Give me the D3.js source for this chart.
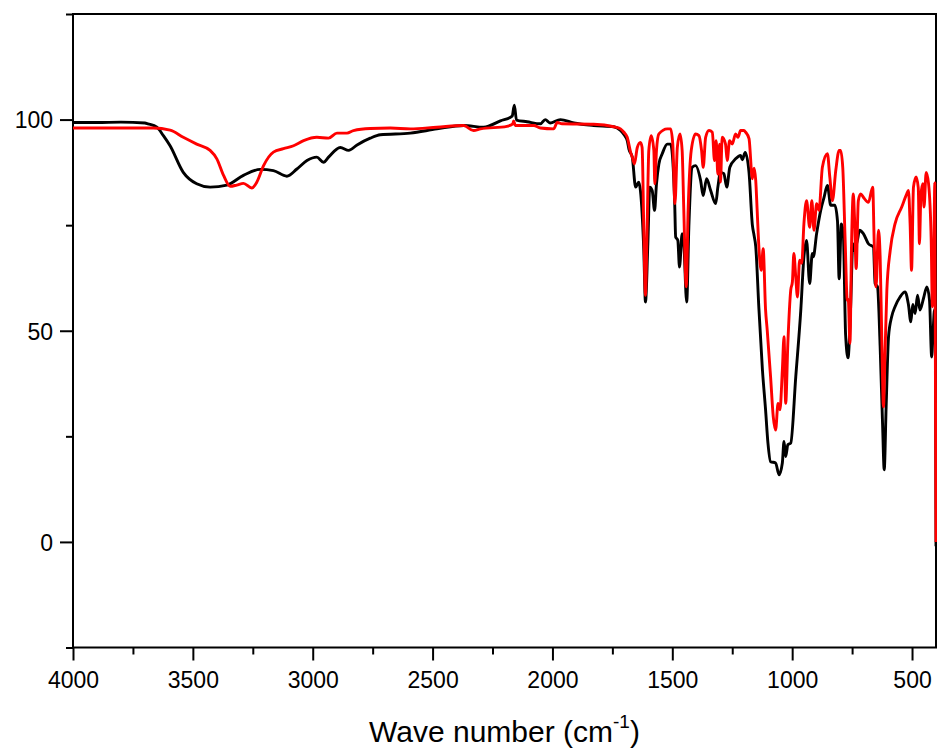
<!DOCTYPE html>
<html>
<head>
<meta charset="utf-8">
<script src="https://cdn.jsdelivr.net/npm/d3@7"></script>
<style>
  body { margin: 0; background: #fff; }
  svg { display: block; font-family: "Liberation Sans", Arial, sans-serif; }
</style>
</head>
<body>
<div id="chart"></div>
<script>
// spectrum 1 (black) - wave number / transmittance
var blackWn = [4000,3900,3800,3700,3687,3650,3623,3595,3540,3484,3428,3358,3289,3219,3164,3108,3066,3024,2983,2955,2934,2885,2850,2815,2760,2718,2593,2482,2370,2287,2217,2168,2159,2150,2106,2050,2030,2010,1967,1911,1828,1744,1716,1702,1688,1681,1667,1653,1640,1633,1619,1612,1602,1594,1584,1574,1566,1556,1542,1521,1507,1498,1490,1486,1477,1470,1459,1452,1440,1431,1417,1403,1382,1371,1357,1340,1319,1310,1299,1285,1273,1260,1236,1215,1208,1196,1180,1166,1159,1152,1139,1124,1111,1101,1090,1069,1055,1041,1034,1027,1018,1006,985,964,951,940,927,916,912,898,881,867,853,839,822,811,804,795,787,777,767,756,747,741,728,719,703,682,661,654,644,633,623,616,608,598,585,571,550,529,515,505,497,487,477,467,452,438,427,418,412,406,402,400];
var blackT  = [99.3,99.3,99.4,99.2,99.0,98.2,96.2,93.8,87.5,84.8,84.0,84.5,86.8,88.2,87.9,86.6,88.3,90.3,91.1,89.9,91.1,93.4,92.7,94.0,95.6,96.4,96.8,97.8,98.6,98.2,99.7,100.8,103.4,99.9,99.5,99.0,100.0,99.2,100.0,99.2,98.6,98.3,97.4,96.5,95.0,93.0,91.1,84.0,85.2,83.2,69.1,56.8,70.6,84.0,83.2,78.5,84.8,89.5,91.9,94.2,94.2,90.3,80.1,72.2,71.4,65.1,73.0,70.6,56.8,74.5,88.7,89.1,85.6,82.0,86.0,83.2,80.1,84.0,87.5,87.2,84.0,88.7,90.7,91.5,90.5,92.2,87.5,75.0,72.6,70.0,55.5,40.7,31.3,23.4,19.0,18.7,15.9,18.7,23.8,20.2,23.0,23.4,39.1,54.9,67.5,71.4,61.2,68.3,67.5,73.0,78.5,81.6,84.4,79.7,79.7,76.0,62.3,75.3,73.5,49.0,43.6,55.7,70.6,69.0,71.4,73.8,73.0,70.6,69.8,61.2,60.4,46.2,28.1,17.1,32.0,48.6,53.3,55.7,58.0,59.2,56.2,52.1,56.2,54.1,58.4,54.9,57.7,60.4,57.2,43.8,50.0,55.0,45.0,-1.0];

// spectrum 2 (red)
var redWn = [4000,3700,3665,3595,3540,3484,3428,3400,3372,3344,3317,3289,3254,3233,3205,3164,3122,3080,3038,2983,2934,2899,2857,2830,2760,2676,2593,2482,2370,2329,2300,2190,2165,2162,2155,2078,2050,1995,1980,1960,1828,1744,1716,1702,1688,1674,1667,1658,1646,1633,1626,1619,1612,1605,1598,1588,1577,1573,1566,1556,1521,1507,1498,1489,1479,1468,1459,1452,1442,1434,1421,1403,1389,1378,1371,1361,1347,1333,1324,1317,1310,1303,1299,1292,1278,1271,1261,1250,1236,1226,1215,1201,1194,1180,1166,1159,1152,1146,1139,1129,1121,1111,1104,1090,1079,1069,1059,1051,1041,1034,1027,1018,1006,999,993,985,978,969,960,951,940,927,918,909,898,888,874,853,843,832,818,804,798,789,779,770,766,759,752,745,740,733,724,714,703,682,664,658,650,640,633,626,619,613,605,591,571,543,522,515,508,502,494,483,474,469,463,455,450,441,431,420,415,410,405,400];
var redT  = [98.0,98.0,98.0,97.5,95.8,94.2,92.7,90.7,86.8,84.2,84.5,84.9,83.8,85.2,89.1,92.3,93.1,93.8,95.0,95.8,95.6,96.8,96.8,97.4,97.9,98.0,97.8,98.2,98.6,97.4,97.8,98.4,99.0,99.7,98.6,98.6,98.0,97.8,99.3,99.0,98.9,98.3,97.8,97.0,95.8,92.3,91.1,89.5,93.4,94.6,93.4,74.5,58.4,74.5,92.7,96.2,92.7,84.8,92.7,96.6,97.8,97.8,94.2,80.1,93.4,96.6,92.7,78.5,60.4,78.5,92.7,96.6,96.2,92.7,88.7,95.8,97.4,97.0,90.3,95.0,87.1,94.2,85.2,95.8,94.2,90.3,95.0,94.2,96.6,95.8,97.4,97.4,97.0,95.5,86.0,88.5,85.6,78.5,70.0,64.3,69.4,55.0,50.1,39.1,29.7,26.5,32.8,31.3,40.6,48.6,32.8,47.0,59.6,61.6,68.3,62.7,58.0,66.7,66.0,75.3,80.8,74.5,80.8,73.8,80.1,78.5,88.7,91.9,86.4,80.8,88.0,92.7,92.7,88.7,71.4,57.2,57.5,47.0,71.4,82.4,77.0,64.7,80.8,82.4,81.6,80.4,84.0,71.4,60.4,73.8,67.5,47.8,32.0,43.8,59.6,69.0,75.3,79.3,82.4,83.2,75.3,64.3,84.0,86.4,83.9,70.6,82.0,84.8,79.3,87.5,84.8,71.4,55.7,62.0,85.0,0.0];

var xMajor = [4000,3500,3000,2500,2000,1500,1000,500];
var xMinor = [3750,3250,2750,2250,1750,1250,750];
var yMajor = [0,50,100];
var yMinor = [-25,25,75,125];

var width = 937, height = 752;
var plotLeft = 73, plotRight = 936, plotTop = 14, plotBottom = 647.5;
var tickFont = "Liberation Sans, Arial, sans-serif";

var svg = d3.select("#chart").append("svg").attr("width",width).attr("height",height);

var x = d3.scaleLinear().domain([4000,400]).range([plotLeft,plotRight]);
var y = d3.scaleLinear().domain([-25,125]).range([plotBottom,plotTop]);

// x axis
var gx = svg.append("g").attr("transform","translate(0,"+plotBottom+")")
    .call(d3.axisBottom(x).tickValues(xMajor).tickSize(13).tickSizeOuter(0).tickFormat(d3.format("d")));
gx.selectAll("text").attr("y",40.5).attr("dy",0).attr("font-size",23).attr("font-family",tickFont).attr("fill","#000");
svg.append("g").attr("transform","translate(0,"+plotBottom+")")
    .call(d3.axisBottom(x).tickValues(xMinor).tickSize(7).tickSizeOuter(0).tickFormat(""));

// y axis
var gy = svg.append("g").attr("transform","translate("+plotLeft+",0)")
    .call(d3.axisLeft(y).tickValues(yMajor).tickSize(13).tickSizeOuter(0));
gy.selectAll("text").attr("x",-20).attr("dy","0.36em").attr("font-size",23).attr("font-family",tickFont).attr("fill","#000");
svg.append("g").attr("transform","translate("+plotLeft+",0)")
    .call(d3.axisLeft(y).tickValues(yMinor).tickSize(7).tickSizeOuter(0).tickFormat(""));

svg.selectAll(".domain").remove();
svg.selectAll(".tick line").attr("stroke","#000").attr("stroke-width",2);

// frame
svg.append("rect").attr("x",plotLeft).attr("y",plotTop).attr("width",plotRight-plotLeft).attr("height",plotBottom-plotTop)
    .attr("fill","none").attr("stroke","#000").attr("stroke-width",2);

var line = d3.line().x(function(d){ return x(d[0]); }).y(function(d){ return y(d[1]); }).curve(d3.curveMonotoneX);

var blackData = blackWn.map(function(w,i){ return [w, blackT[i]]; });
var redData = redWn.map(function(w,i){ return [w, redT[i]]; });

svg.append("path").datum(blackData).attr("d",line).attr("fill","none").attr("stroke","#000").attr("stroke-width",2.9).attr("stroke-linejoin","round");
svg.append("path").datum(redData).attr("d",line).attr("fill","none").attr("stroke","#ff0000").attr("stroke-width",2.9).attr("stroke-linejoin","round");

// axis title
var title = svg.append("text").attr("x",(plotLeft+plotRight)/2).attr("y",741.5).attr("text-anchor","middle")
    .attr("font-size",30).attr("fill","#000");
title.append("tspan").text("Wave number (cm");
title.append("tspan").attr("font-size",19).attr("dy",-14).text("-1");
title.append("tspan").attr("dy",14).text(")");
</script>
</body>
</html>
